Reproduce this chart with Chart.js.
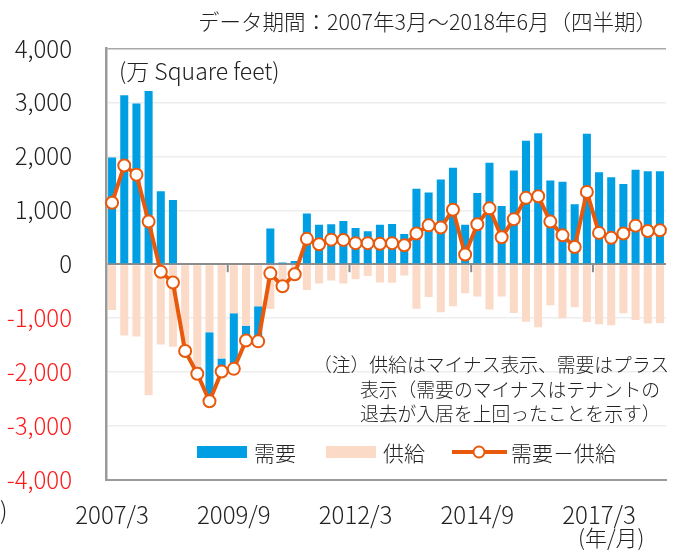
<!DOCTYPE html>
<html lang="ja">
<head>
<meta charset="utf-8">
<script src="https://cdn.jsdelivr.net/npm/chart.js@4.4.1/dist/chart.umd.min.js"></script>
<style>
  html, body { margin: 0; padding: 0; background: #fff; overflow: hidden; }
  body { width: 675px; height: 550px; position: relative; font-family: "Noto Sans CJK JP", "Noto Sans", sans-serif; font-weight: 300; color: #222; }
  #wrap { position: absolute; left: 0; top: 0; width: 680px; height: 550px; }
  .txt { position: absolute; white-space: nowrap; line-height: 1; }
  #title { right: 18px; top: 10px; font-size: 21.5px; }
  #unit { left: 119px; top: 59px; font-size: 23px; }
  #note { left: 313px; top: 352px; font-size: 18.8px; line-height: 24.5px; }
  #note div.ind { padding-left: 47px; }
  #ym { left: 578px; top: 525px; font-size: 22px; }
  #paren { left: 0px; top: 497px; font-size: 24px; }
  #legend { position: absolute; left: 0; top: 441px; width: 675px; height: 24px; font-size: 21px; }
  #legend .it { position: absolute; top: 0; white-space: nowrap; line-height: 22px; }
  #legend .box { position: absolute; top: 5px; width: 50px; height: 12px; }
</style>
</head>
<body>
<div id="wrap"><canvas id="chart"></canvas></div>
<div class="txt" id="title">データ期間：2007年3月～2018年6月（四半期）</div>
<div class="txt" id="unit">(万 Square feet)</div>
<div class="txt" id="note">
  <div>（注）供給はマイナス表示、需要はプラス</div>
  <div class="ind">表示（需要のマイナスはテナントの</div>
  <div class="ind">退去が入居を上回ったことを示す）</div>
</div>
<div class="txt" id="ym">(年/月)</div>
<div class="txt" id="paren">)</div>
<div id="legend"></div>
<script>
// quarters 2007/3 .. 2018/6
const years = [2007, 2008, 2009, 2010, 2011, 2012, 2013, 2014, 2015, 2016, 2017, 2018];
const months = [3, 6, 9, 12];
const quarters = [];
years.forEach(y => months.forEach(m => {
    if (y === 2018 && m > 6) return;
    quarters.push(y + '/' + m);
}));

// 需要 (demand), 万 sq ft
const demand = [
    1980, 3130, 2980, 3210, 1350, 1190, 0, -120, -1280, -240,
    -1030, -275, -650, 660, 30, 60, 940, 730, 740, 800,
    670, 610, 730, 745, 560, 1400, 1330, 1570, 1790, 730,
    1320, 1880, 1080, 1735, 2290, 2425, 1550, 1530, 1110, 2420,
    1705, 1610, 1485, 1750, 1725, 1725
];

// 供給 (supply), shown as negative
const supply = [
    -850, -1320, -1340, -2430, -1490, -1530, -1610, -1910, -1260, -1750,
    -910, -1140, -780, -830, -440, -245, -480, -360, -300, -360,
    -280, -220, -340, -345, -210, -825, -610, -890, -780, -540,
    -600, -840, -600, -905, -1065, -1170, -760, -1000, -800, -1070,
    -1115, -1130, -910, -1035, -1100, -1095
];

// 需要－供給 (net absorption)
const net = [
    1140, 1830, 1660, 790, -140, -340, -1610, -2030, -2540, -1990,
    -1940, -1415, -1430, -170, -410, -185, 470, 370, 455, 450,
    390, 390, 380, 390, 350, 570, 720, 680, 1010, 180,
    740, 1035, 500, 835, 1230, 1260, 790, 535, 320, 1340,
    580, 490, 570, 715, 615, 630
];

const yTicks = [-4000, -3000, -2000, -1000, 0, 1000, 2000, 3000, 4000];

const BLUE = '#009fe3';
const PEACH = '#fbdac8';
const ORANGE = '#e8590c';
const FONT = '"Noto Sans CJK JP", "Noto Sans", sans-serif';

// small tick marks on the zero line every 10 quarters
const zeroTicks = {
    id: 'zeroTicks',
    afterDatasetsDraw(chart) {
        const x = chart.scales.x;
        const y = chart.scales.y;
        const ctx = chart.ctx;
        const y0 = y.getPixelForValue(0);
        ctx.save();
        ctx.strokeStyle = '#8c8c8c';
        ctx.lineWidth = 2;
        for (let i = 10; i < quarters.length; i += 10) {
            const px = (x.getPixelForValue(i - 1) + x.getPixelForValue(i)) / 2;
            ctx.beginPath();
            ctx.moveTo(px, y0);
            ctx.lineTo(px, y0 + 8);
            ctx.stroke();
        }
        ctx.restore();
    }
};

// supply is dataset 0 so negative demand stacks below it
const data = {
    labels: quarters,
    datasets: [
        {
            label: '供給',
            data: supply,
            backgroundColor: PEACH,
            stack: 'a',
            order: 1,
            categoryPercentage: 1,
            barPercentage: 0.66
        },
        {
            label: '需要',
            data: demand,
            backgroundColor: BLUE,
            stack: 'a',
            order: 1,
            categoryPercentage: 1,
            barPercentage: 0.66
        },
        {
            type: 'line',
            label: '需要－供給',
            data: net,
            stack: 'net',
            order: 0,
            borderColor: ORANGE,
            borderWidth: 4,
            pointRadius: 6,
            pointBorderWidth: 2,
            pointBackgroundColor: '#fff',
            pointBorderColor: ORANGE,
            tension: 0
        }
    ]
};

const options = {
    responsive: true,
    maintainAspectRatio: false,
    animation: false,
    layout: { padding: { top: 47, right: 2, bottom: 0, left: 0 } },
    scales: {
        x: {
            stacked: true,
            grid: { display: false, drawTicks: false },
            border: { display: true, color: '#9a9a9a', width: 2 },
            ticks: {
                autoSkip: false,
                maxRotation: 0,
                padding: 20,
                color: '#222',
                font: { family: FONT, size: 24, weight: '300' },
                callback: (v, i) => (i % 10 === 0 ? quarters[i] : '')
            },
            afterFit: s => { s.height = 70; }
        },
        y: {
            stacked: true,
            min: -4000,
            max: 4000,
            afterBuildTicks: s => { s.ticks = yTicks.map(v => ({ value: v })); },
            grid: {
                drawTicks: false,
                color: c => {
                    const v = c.tick.value;
                    if (v === 0) return '#8c8c8c';
                    if (v === 4000) return '#a8a8a8';
                    return '#ededed';
                },
                lineWidth: c => (c.tick.value === 0 ? 2 : 1.5)
            },
            border: { display: true, color: '#9a9a9a', width: 2.5 },
            ticks: {
                padding: 34,
                color: c => (c.tick.value < 0 ? '#ff1a1a' : '#222'),
                font: { family: FONT, size: 24, weight: '300' },
                callback: v => v.toLocaleString('en-US')
            },
            afterFit: s => { s.width = 106; }
        }
    },
    plugins: {
        legend: { display: false },
        tooltip: { enabled: false },
        title: { display: false }
    }
};

new Chart(document.getElementById('chart').getContext('2d'), {
    type: 'bar',
    data: data,
    options: options,
    plugins: [zeroTicks]
});

// legend inside the bottom of the plot box
const legend = document.getElementById('legend');
legend.innerHTML =
    '<i class="box" style="left:197px;background:' + BLUE + '"></i>' +
    '<span class="it" style="left:254px">' + data.datasets[1].label + '</span>' +
    '<i class="box" style="left:326px;background:' + PEACH + '"></i>' +
    '<span class="it" style="left:383px">' + data.datasets[0].label + '</span>' +
    '<svg width="56" height="22" style="position:absolute;left:452px;top:0">' +
    '<line x1="0" y1="11" x2="55" y2="11" stroke="' + ORANGE + '" stroke-width="4"/>' +
    '<circle cx="27" cy="11" r="5.5" fill="#fff" stroke="' + ORANGE + '" stroke-width="2"/></svg>' +
    '<span class="it" style="left:511px">' + data.datasets[2].label + '</span>';
</script>
</body>
</html>
